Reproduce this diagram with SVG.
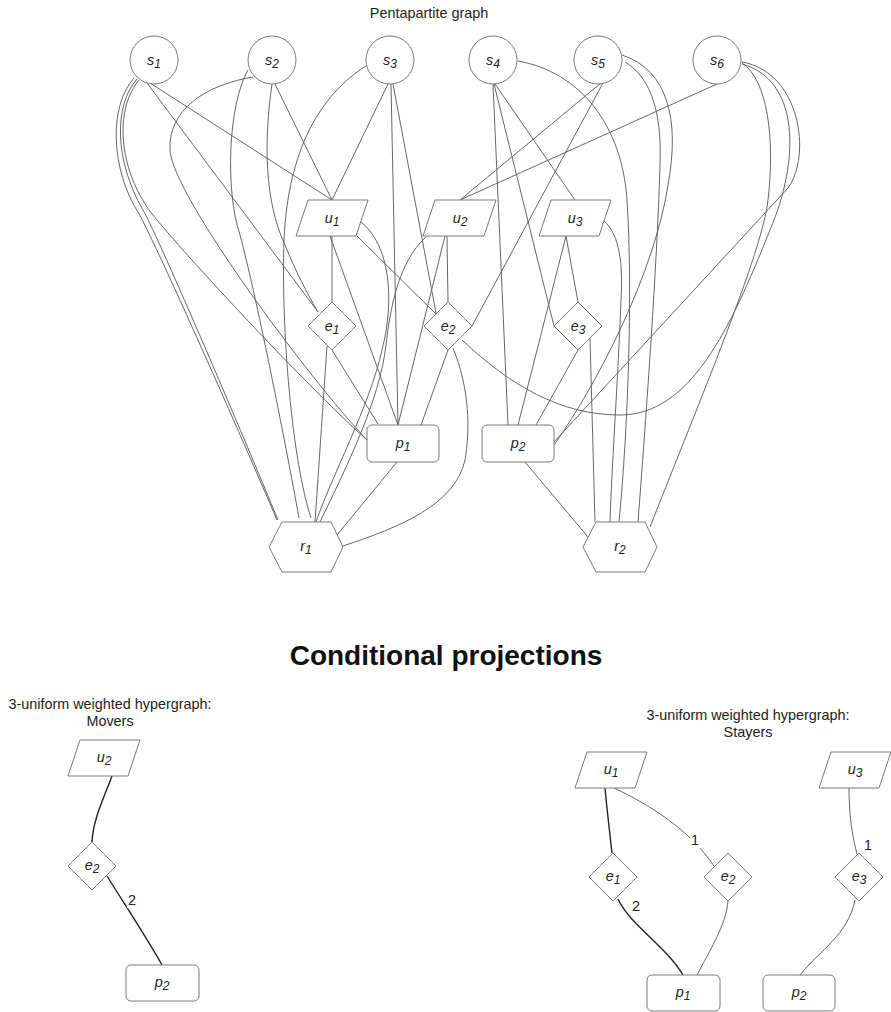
<svg xmlns="http://www.w3.org/2000/svg" width="891" height="1012" viewBox="0 0 891 1012">
<style>
.n{fill:#fff;stroke:#7a7a7a;stroke-width:1}
.e{fill:none;stroke:#666;stroke-width:1}
.d{fill:none;stroke:#222;stroke-width:1.4}
.t{font-family:"Liberation Sans",Arial,sans-serif;font-size:14.4px;fill:#222;text-anchor:middle}
.b{font-family:"Liberation Sans",Arial,sans-serif;font-size:28px;font-weight:bold;fill:#111;text-anchor:middle}
.l{font-family:"Liberation Sans",Arial,sans-serif;font-size:14.4px;font-style:italic;fill:#222;text-anchor:middle}
.s{font-size:12px}
.bg{fill:#fff}
</style>
<rect width="891" height="1012" fill="#fff"/>
<text class="t" x="429" y="18">Pentapartite graph</text>
<text class="b" x="446" y="665">Conditional projections</text>
<text class="t" x="110" y="709">3-uniform weighted hypergraph:</text>
<text class="t" x="110" y="726">Movers</text>
<text class="t" x="748" y="720">3-uniform weighted hypergraph:</text>
<text class="t" x="748" y="737">Stayers</text>

<g id="connectors">
<path class="e" d="M150,83 L332,200"/>
<path class="e" d="M147,83 L318,312"/>
<path class="e" d="M137,79 C114,105 114,160 143,210 C160,240 245,440 278,520"/>
<path class="e" d="M134,78 C109,106 110,168 139,214 C157,246 243,440 277,520"/>
<path class="e" d="M139,80 C116,107 117,162 147,207 C162,230 300,380 367,440"/>
<path class="e" d="M275,84 L332,200"/>
<path class="e" d="M272,84 C264,140 264,200 285,245 C295,270 308,295 318,312"/>
<path class="e" d="M248,70 C228,105 225,190 240,235 C255,290 285,440 299,518"/>
<path class="e" d="M253,77 C205,85 168,110 170,150 C172,195 310,380 367,440"/>
<path class="e" d="M388,84 L332,200"/>
<path class="e" d="M391,84 L398,425"/>
<path class="e" d="M393,84 L436,313"/>
<path class="e" d="M366,66 C320,95 288,150 284,240 C281,330 292,460 311,518"/>
<path class="e" d="M495,84 L575,200"/>
<path class="e" d="M494,84 L554,326"/>
<path class="e" d="M493,84 L508,425"/>
<path class="e" d="M518,61 C580,72 622,125 627,200 C633,290 628,430 619,522"/>
<path class="e" d="M601,83 L460,200"/>
<path class="e" d="M603,83 L472,326"/>
<path class="e" d="M622,55 C668,70 680,120 668,185 C655,270 600,380 554,445"/>
<path class="e" d="M625,62 C652,78 662,115 660,165 C657,270 645,430 638,522"/>
<path class="e" d="M717,84 L460,200"/>
<path class="e" d="M742,64 C800,80 800,160 770,230 C730,330 690,415 620,415 C560,415 510,385 462,340"/>
<path class="e" d="M742,62 C800,72 812,155 788,188 L554,442"/>
<path class="e" d="M742,63 C768,80 775,140 768,200 C763,250 700,400 650,527"/>
<path class="e" d="M332,236 L332,302"/>
<path class="e" d="M330,236 L398,425"/>
<path class="e" d="M357,236 L436,314"/>
<path class="e" d="M361,222 C390,245 395,300 382,350 C370,405 330,480 316,522"/>
<path class="e" d="M447,236 L448,302"/>
<path class="e" d="M445,236 L398,425"/>
<path class="e" d="M426,237 C398,262 390,310 386,345 C380,400 345,470 320,522"/>
<path class="e" d="M566,236 L578,302"/>
<path class="e" d="M566,236 L518,425"/>
<path class="e" d="M604,221 C620,235 623,265 621,300 C618,380 612,460 610,522"/>
<path class="e" d="M332,350 L378,424"/>
<path class="e" d="M327,346 L315,522"/>
<path class="e" d="M448,350 L421,425"/>
<path class="e" d="M453,348 C470,390 470,430 465,460 C455,505 400,527 343,546"/>
<path class="e" d="M578,350 L536,425"/>
<path class="e" d="M590,338 L595,522"/>
<path class="e" d="M397,462 L337,535"/>
<path class="e" d="M525,462 L588,537"/>
<path class="d" d="M112,776 C103,800 93,820 92,842"/>
<path class="d" d="M107,876 C125,905 145,935 162,965"/>
<path class="d" d="M605,788 C607,810 610,835 612,853"/>
<path class="e" d="M614,788 C650,805 690,830 714,866"/>
<path class="e" d="M849,788 C849,815 852,835 857,854"/>
<path class="d" d="M618,899 C630,925 665,945 683,975"/>
<path class="e" d="M728,901 C726,925 710,950 697,975"/>
<path class="e" d="M855,900 C848,935 820,950 800,975"/>
<rect class="bg" x="127" y="893" width="10" height="15"/>
<text class="t" x="132" y="905">2</text>
<rect class="bg" x="690" y="833" width="10" height="15"/>
<text class="t" x="695" y="845">1</text>
<rect class="bg" x="863" y="838" width="10" height="15"/>
<text class="t" x="868" y="850">1</text>
<rect class="bg" x="631" y="899" width="10" height="15"/>
<text class="t" x="636" y="911">2</text>
</g>

<g id="s1"><circle class="n" cx="154" cy="60" r="24"/><text class="l" x="154" y="65">s<tspan class="s" dy="3">1</tspan></text></g>
<g id="s2"><circle class="n" cx="272" cy="60" r="24"/><text class="l" x="272" y="65">s<tspan class="s" dy="3">2</tspan></text></g>
<g id="s3"><circle class="n" cx="390" cy="60" r="24"/><text class="l" x="390" y="65">s<tspan class="s" dy="3">3</tspan></text></g>
<g id="s4"><circle class="n" cx="493" cy="60" r="24"/><text class="l" x="493" y="65">s<tspan class="s" dy="3">4</tspan></text></g>
<g id="s5"><circle class="n" cx="598" cy="60" r="24"/><text class="l" x="598" y="65">s<tspan class="s" dy="3">5</tspan></text></g>
<g id="s6"><circle class="n" cx="717" cy="60" r="24"/><text class="l" x="717" y="65">s<tspan class="s" dy="3">6</tspan></text></g>

<g id="u1"><polygon class="n" points="308,200 368,200 356,236 296,236"/><text class="l" x="332" y="223">u<tspan class="s" dy="3">1</tspan></text></g>
<g id="u2"><polygon class="n" points="435,200 496,200 484,236 423,236"/><text class="l" x="460" y="223">u<tspan class="s" dy="3">2</tspan></text></g>
<g id="u3"><polygon class="n" points="551,200 611,200 599,236 539,236"/><text class="l" x="575" y="223">u<tspan class="s" dy="3">3</tspan></text></g>

<g id="e1"><polygon class="n" points="332,302 356,326 332,350 308,326"/><text class="l" x="332" y="331">e<tspan class="s" dy="3">1</tspan></text></g>
<g id="e2"><polygon class="n" points="448,302 472,326 448,350 424,326"/><text class="l" x="448" y="331">e<tspan class="s" dy="3">2</tspan></text></g>
<g id="e3"><polygon class="n" points="578,302 602,326 578,350 554,326"/><text class="l" x="578" y="331">e<tspan class="s" dy="3">3</tspan></text></g>

<g id="p1"><rect class="n" x="367" y="425" width="72" height="37" rx="5"/><text class="l" x="403" y="448">p<tspan class="s" dy="3">1</tspan></text></g>
<g id="p2"><rect class="n" x="482" y="425" width="72" height="37" rx="5"/><text class="l" x="518" y="448">p<tspan class="s" dy="3">2</tspan></text></g>

<g id="r1"><polygon class="n" points="282,522 331,522 343,547 331,572 282,572 269,547"/><text class="l" x="306" y="551">r<tspan class="s" dy="3">1</tspan></text></g>
<g id="r2"><polygon class="n" points="596,522 645,522 657,547 645,572 596,572 583,547"/><text class="l" x="620" y="551">r<tspan class="s" dy="3">2</tspan></text></g>

<g id="m-u2"><polygon class="n" points="80,740 140,740 128,776 68,776"/><text class="l" x="104" y="762">u<tspan class="s" dy="3">2</tspan></text></g>
<g id="m-e2"><polygon class="n" points="92,842 116,866 92,890 68,866"/><text class="l" x="92" y="870">e<tspan class="s" dy="3">2</tspan></text></g>
<g id="m-p2"><rect class="n" x="126" y="965" width="73" height="36" rx="5"/><text class="l" x="162" y="987">p<tspan class="s" dy="3">2</tspan></text></g>

<g id="st-u1"><polygon class="n" points="587,752 647,752 635,788 575,788"/><text class="l" x="611" y="774">u<tspan class="s" dy="3">1</tspan></text></g>
<g id="st-u3"><polygon class="n" points="831,752 891,752 879,788 819,788"/><text class="l" x="855" y="774">u<tspan class="s" dy="3">3</tspan></text></g>
<g id="st-e1"><polygon class="n" points="613,853 637,877 613,901 589,877"/><text class="l" x="613" y="881">e<tspan class="s" dy="3">1</tspan></text></g>
<g id="st-e2"><polygon class="n" points="728,853 752,877 728,901 704,877"/><text class="l" x="728" y="881">e<tspan class="s" dy="3">2</tspan></text></g>
<g id="st-e3"><polygon class="n" points="859,853 883,877 859,901 835,877"/><text class="l" x="859" y="881">e<tspan class="s" dy="3">3</tspan></text></g>
<g id="st-p1"><rect class="n" x="647" y="975" width="73" height="36" rx="5"/><text class="l" x="683" y="997">p<tspan class="s" dy="3">1</tspan></text></g>
<g id="st-p2"><rect class="n" x="763" y="975" width="72" height="36" rx="5"/><text class="l" x="799" y="997">p<tspan class="s" dy="3">2</tspan></text></g>
</svg>
